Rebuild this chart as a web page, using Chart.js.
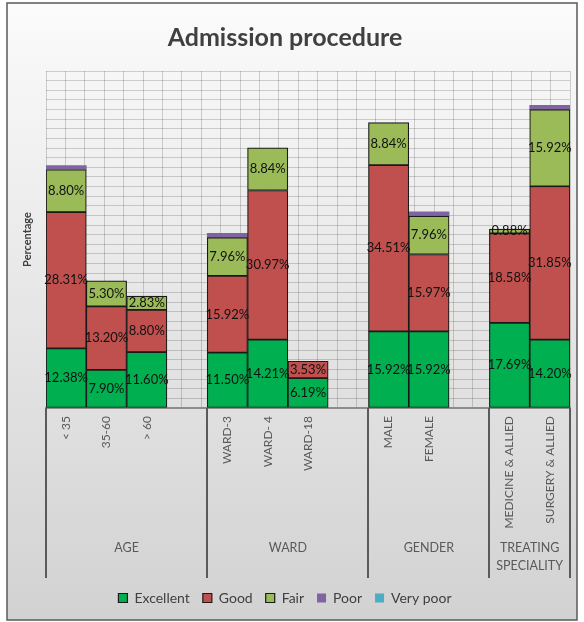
<!DOCTYPE html>
<html>
<head>
<meta charset="utf-8">
<script src="https://cdn.jsdelivr.net/npm/chart.js@4.4.1/dist/chart.umd.min.js"></script>
<style>
  body { margin: 0; background: #fff; }
  #wrap { width: 584px; height: 622px; }
</style>
</head>
<body>
<div id="wrap"><canvas id="admissionChart"></canvas></div>
<script>
const categories = ['< 35', '35-60', '> 60', '', 'WARD-3', 'WARD- 4', 'WARD-18', '', 'MALE', 'FEMALE', '', 'MEDICINE & ALLIED', 'SURGERY & ALLIED'];
const excellent = [12.38, 7.90, 11.60, null, 11.50, 14.21, 6.19, null, 15.92, 15.92, null, 17.69, 14.20];
const good = [28.31, 13.20, 8.80, null, 15.92, 30.97, 3.53, null, 34.51, 15.97, null, 18.58, 31.85];
const fair = [8.80, 5.30, 2.83, null, 7.96, 8.84, null, null, 8.84, 7.96, null, 0.88, 15.92];
const poor = [0.88, null, null, null, 0.88, null, null, null, null, 0.88, null, null, 0.88];
const veryPoor = [null, null, null, null, null, null, null, null, null, null, null, null, null];

const groupLabels = [['AGE'], ['WARD'], ['GENDER'], ['TREATING', 'SPECIALITY']];
const groupStarts = [0, 4, 8, 11, 13];

const FONT = 'Lato, "Open Sans", sans-serif';

const backgroundPlugin = {
    id: 'background',
    beforeDraw(chart) {
        const ctx = chart.ctx;
        ctx.save();
        ctx.fillStyle = '#ffffff';
        ctx.fillRect(0, 0, chart.width, chart.height);
        const grad = ctx.createLinearGradient(0, 3, 0, 620);
        grad.addColorStop(0, '#fbfbfb');
        grad.addColorStop(0.5, '#e6e6e6');
        grad.addColorStop(1, '#d2d2d2');
        ctx.fillStyle = grad;
        ctx.fillRect(7, 3, 570, 617);
        ctx.strokeStyle = '#5a5a5a';
        ctx.lineWidth = 1.5;
        ctx.strokeRect(7, 3, 570, 617);
        ctx.restore();
    }
};

const labelsPlugin = {
    id: 'segmentLabels',
    afterDatasetsDraw(chart) {
        const ctx = chart.ctx;
        ctx.save();
        ctx.font = '13px ' + FONT;
        ctx.fillStyle = '#111111';
        ctx.textAlign = 'center';
        ctx.textBaseline = 'middle';
        [0, 1, 2].forEach(di => {
            const meta = chart.getDatasetMeta(di);
            chart.data.datasets[di].data.forEach((v, i) => {
                if (v == null) return;
                const el = meta.data[i];
                ctx.fillText(v.toFixed(2) + '%', el.x, (el.y + el.base) / 2);
            });
        });
        ctx.restore();
    }
};

const groupsPlugin = {
    id: 'groups',
    afterDraw(chart) {
        const ctx = chart.ctx;
        const xs = chart.scales.x;
        const half = (xs.getPixelForValue(1) - xs.getPixelForValue(0)) / 2;
        ctx.save();
        ctx.strokeStyle = '#5a5a5a';
        ctx.lineWidth = 2;
        groupStarts.forEach(i => {
            const px = Math.round(xs.getPixelForValue(i) - half);
            ctx.beginPath();
            ctx.moveTo(px, xs.top);
            ctx.lineTo(px, xs.bottom);
            ctx.stroke();
        });
        ctx.font = '12.5px ' + FONT;
        ctx.fillStyle = '#595959';
        ctx.textAlign = 'center';
        ctx.textBaseline = 'middle';
        groupLabels.forEach((lines, g) => {
            const left = xs.getPixelForValue(groupStarts[g]) - half;
            const right = xs.getPixelForValue(groupStarts[g + 1]) - half;
            lines.forEach((t, k) => {
                ctx.fillText(t, (left + right) / 2, xs.top + 140 + k * 18);
            });
        });
        ctx.restore();
    }
};

const ctx = document.getElementById('admissionChart').getContext('2d');
const admissionChart = new Chart(ctx, {
    type: 'bar',
    data: {
        labels: categories,
        datasets: [{
            label: 'Excellent',
            data: excellent,
            backgroundColor: '#00B050',
            borderColor: '#1a1a1a',
            borderWidth: 1.2,
            borderSkipped: false
        }, {
            label: 'Good',
            data: good,
            backgroundColor: '#C0504D',
            borderColor: '#1a1a1a',
            borderWidth: 1.2,
            borderSkipped: false
        }, {
            label: 'Fair',
            data: fair,
            backgroundColor: '#9BBB59',
            borderColor: '#1a1a1a',
            borderWidth: 1.2,
            borderSkipped: false
        }, {
            label: 'Poor',
            data: poor,
            backgroundColor: '#8064A2',
            borderWidth: 0
        }, {
            label: 'Very poor',
            data: veryPoor,
            backgroundColor: '#4BACC6',
            borderWidth: 0
        }]
    },
    options: {
        responsive: true,
        maintainAspectRatio: false,
        animation: false,
        datasets: {
            bar: { barPercentage: 1, categoryPercentage: 1 }
        },
        layout: { padding: { left: 0, right: 14, top: 0, bottom: 7 } },
        plugins: {
            title: {
                display: true,
                text: 'Admission procedure',
                color: '#404040',
                font: { family: FONT, size: 25, weight: 'bold' },
                padding: { top: 23, bottom: 18 }
            },
            legend: {
                position: 'bottom',
                labels: {
                    boxWidth: 9,
                    boxHeight: 9,
                    padding: 13,
                    color: '#404040',
                    font: { family: FONT, size: 14 }
                }
            },
            tooltip: { enabled: false }
        },
        scales: {
            x: {
                stacked: true,
                grid: { display: false, drawTicks: false },
                border: { display: true, color: '#8c8c8c', width: 2 },
                ticks: {
                    autoSkip: false,
                    maxRotation: 90,
                    minRotation: 90,
                    padding: 8,
                    color: '#595959',
                    font: { family: FONT, size: 12 }
                },
                afterFit: s => { s.height = 170; }
            },
            xg: {
                type: 'linear',
                position: 'top',
                min: 0,
                max: 26,
                grid: { color: 'rgba(0,0,0,0.17)', drawTicks: false },
                border: { display: false },
                ticks: { display: false, stepSize: 1 },
                afterFit: s => { s.height = 0; }
            },
            y: {
                stacked: true,
                min: 0,
                max: 70,
                grid: { color: 'rgba(0,0,0,0.17)', drawTicks: false },
                border: { display: false },
                ticks: { display: false, stepSize: 2 },
                title: {
                    display: true,
                    text: 'Percentage',
                    color: '#404040',
                    font: { family: FONT, size: 11, weight: 'bold' },
                    padding: { top: 21 }
                },
                afterFit: s => { s.width = 46; }
            }
        }
    },
    plugins: [backgroundPlugin, labelsPlugin, groupsPlugin]
});
</script>
</body>
</html>
